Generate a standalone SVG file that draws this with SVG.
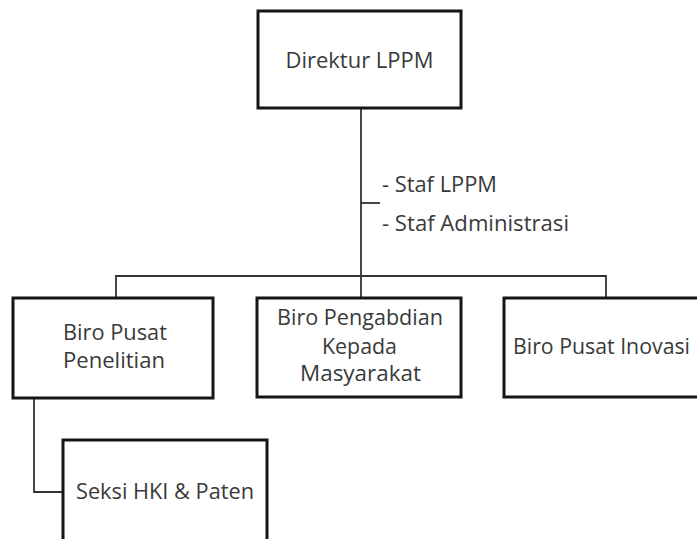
<svg xmlns="http://www.w3.org/2000/svg" width="697" height="539" viewBox="0 0 697 539">
<style>
.box{fill:#fff;stroke:#151515;stroke-width:3}
.t{font-family:"Open Sans","Noto Sans",sans-serif;font-size:21.5px;fill:#3a3a3a}
.c{text-anchor:middle}
.ln{fill:none;stroke:#333;stroke-width:1.8}
</style>
<rect width="697" height="539" fill="#fff"/>
<g id="connectors">
<path class="ln" d="M361 108 V297"/>
<path class="ln" d="M116 298 V276 H606 V298"/>
<path class="ln" d="M361 203 H380"/>
<path class="ln" d="M34 398 V492 H63"/>
</g>
<g id="direktur">
<rect class="box" x="258" y="11" width="203" height="97"/>
<text class="t c" x="359.5" y="68" textLength="148" lengthAdjust="spacingAndGlyphs">Direktur LPPM</text>
</g>
<g id="staf">
<text class="t" x="382" y="192" textLength="115" lengthAdjust="spacingAndGlyphs">- Staf LPPM</text>
<text class="t" x="382" y="231" textLength="187" lengthAdjust="spacingAndGlyphs">- Staf Administrasi</text>
</g>
<g id="penelitian">
<rect class="box" x="13" y="298" width="200" height="100"/>
<text class="t c" x="115" y="340" textLength="104" lengthAdjust="spacingAndGlyphs">Biro Pusat</text>
<text class="t c" x="114" y="368" textLength="102" lengthAdjust="spacingAndGlyphs">Penelitian</text>
</g>
<g id="pengabdian">
<rect class="box" x="257" y="298" width="204" height="99"/>
<text class="t c" x="360" y="325" textLength="166" lengthAdjust="spacingAndGlyphs">Biro Pengabdian</text>
<text class="t c" x="359.5" y="354" textLength="75" lengthAdjust="spacingAndGlyphs">Kepada</text>
<text class="t c" x="360.5" y="381" textLength="121" lengthAdjust="spacingAndGlyphs">Masyarakat</text>
</g>
<g id="inovasi">
<rect class="box" x="504" y="298" width="200" height="99"/>
<text class="t c" x="601.5" y="354" textLength="177" lengthAdjust="spacingAndGlyphs">Biro Pusat Inovasi</text>
</g>
<g id="seksi">
<rect class="box" x="63" y="440" width="204" height="110"/>
<text class="t c" x="165" y="499" textLength="178" lengthAdjust="spacingAndGlyphs">Seksi HKI &amp; Paten</text>
</g>
</svg>
